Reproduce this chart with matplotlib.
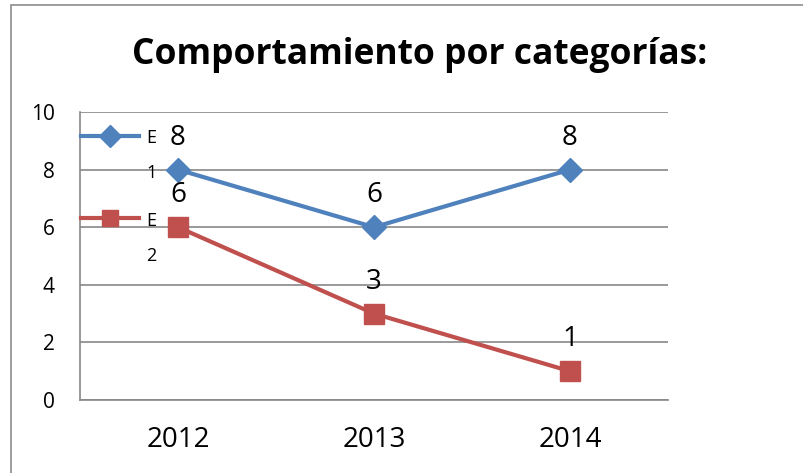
import matplotlib
matplotlib.use("Agg")
import matplotlib.pyplot as plt
from matplotlib.offsetbox import HPacker
from matplotlib.patches import Rectangle

plt.rcParams["font.family"] = ["Open Sans", "DejaVu Sans"]

YEARS = ["2012", "2013", "2014"]
E1 = [8, 6, 8]
E2 = [6, 3, 1]
LABELS = ["E\n1", "E\n2"]
TITLE = "Comportamiento por categorías:"

BLUE = "#4F81BD"
RED = "#C0504D"
GRID = "#878787"

fig = plt.figure(figsize=(8.04, 4.73), dpi=100)
ax = fig.add_axes([80 / 804, 1 - 400 / 473, 588 / 804, 288 / 473])

x = range(len(YEARS))
ax.plot(x, E1, color=BLUE, lw=3, marker="D", ms=12, label=LABELS[0])
ax.plot(x, E2, color=RED, lw=3, marker="s", ms=15, label=LABELS[1])

for vals in (E1, E2):
    for xi, v in zip(x, vals):
        ax.annotate(str(v), (xi, v), xytext=(0, 23), textcoords="offset points",
                    ha="center", va="center", fontsize=20)

ax.set_xlim(-0.5, 2.5)
ax.set_ylim(0, 10)
ax.set_yticks(range(0, 11, 2))
ax.set_xticks(list(x))
ax.set_xticklabels(YEARS)
ax.tick_params(axis="x", length=0, pad=19, labelsize=20)
ax.tick_params(axis="y", length=0, pad=18, labelsize=15)
ax.grid(axis="y", color=GRID, lw=1.2)
ax.set_axisbelow(True)
for s in ("top", "right"):
    ax.spines[s].set_visible(False)
for s in ("left", "bottom"):
    ax.spines[s].set_color(GRID)
    ax.spines[s].set_linewidth(1.2)

leg = ax.legend(loc="upper left", bbox_to_anchor=(-0.01, 0.965), frameon=False,
                fontsize=13, handlelength=3.2, handletextpad=0.4,
                labelspacing=1.65, borderaxespad=0)
for t in leg.get_texts():
    t.set_linespacing(2.2)
# put the line next to the first text row ("E"), like the original
for hp in leg.findobj(HPacker):
    hp.align = "top"
for h in leg.legend_handles:
    h.set_markersize(11)

fig.text(0.522, 1 - 55 / 473, TITLE, ha="center", va="center",
         fontsize=25.5, fontweight="bold")

fig.patches.append(Rectangle((11 / 804, -0.1), 1.1, 1 - 5 / 473 + 0.1,
                             transform=fig.transFigure, fill=False,
                             edgecolor="#8c8c8c", lw=1.2))

fig.savefig("out.png", dpi=100)
